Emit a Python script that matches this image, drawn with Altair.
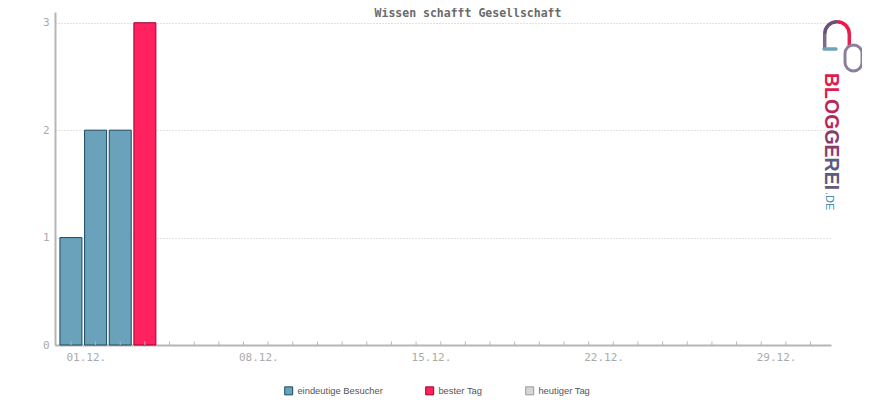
import altair as alt
import pandas as pd
import math

# ---- data ----
days = [1, 2, 3, 4]
visitors = [1, 2, 2, 3]
series = ["eindeutige Besucher", "eindeutige Besucher", "eindeutige Besucher", "bester Tag"]
legend_names = ["eindeutige Besucher", "bester Tag", "heutiger Tag"]
fill_colors = ["#6aa1bb", "#ff2160", "#d6d6d6"]
stroke_colors = ["#1b4a61", "#a0002a", "#9a9a9a"]
all_days = list(range(1, 32))
tick_days = [1, 8, 15, 22, 29]
tick_labels = ["01.12.", "08.12.", "15.12.", "22.12.", "29.12."]
y_ticks = [0, 1, 2, 3]
title_text = "Wissen schafft Gesellschaft"
logo_parts = ["BL", "OG", "GE", "REI"]
logo_colors = ["#e31b4f", "#b8285c", "#8c3a6c", "#5e5a80"]

bars_df = pd.DataFrame({"day": days, "value": visitors, "series": series})
ticks_df = pd.DataFrame({"day": all_days})

label_expr = "".join(
    f"datum.value == {d} ? '{l}' : " for d, l in zip(tick_days, tick_labels)
) + "''"

GRAY = "#b6b6b6"
MONO = "DejaVu Sans Mono"

xscale = alt.Scale(domain=[0.354, 31.83], nice=False, zero=False, padding=0)
yscale = alt.Scale(domain=[0, 3.1], nice=False, padding=0)

legend_kw = dict(title=None, orient="none", legendX=229, legendY=374,
                 direction="horizontal", columns=3, columnPadding=40,
                 symbolType="square", symbolSize=64, symbolStrokeWidth=1,
                 labelFont="Liberation Sans", labelFontSize=9.4,
                 labelColor="#555555", labelOffset=4)

bars = alt.Chart(bars_df).mark_bar(width=22, strokeWidth=1).encode(
    x=alt.X("day:Q", scale=xscale, axis=alt.Axis(
        values=tick_days, labelExpr=label_expr, title=None, grid=False,
        ticks=False, domainColor=GRAY, domainWidth=2,
        labelFont=MONO, labelFontSize=11, labelColor="#aaaaaa",
        labelAlign="left", labelOffset=-5, labelPadding=6, labelOverlap=False,
        labelFlush=False)),
    y=alt.Y("value:Q", scale=yscale, axis=alt.Axis(
        values=y_ticks, format="d", title=None, ticks=False,
        domainColor=GRAY, domainWidth=2,
        grid=True, gridColor="#c4c4c4", gridDash=[1, 2], gridWidth=1,
        labelFont=MONO, labelFontSize=11, labelColor="#aaaaaa",
        labelPadding=6)),
    color=alt.Color("series:N", scale=alt.Scale(domain=legend_names, range=fill_colors),
                    legend=alt.Legend(**legend_kw)),
    stroke=alt.Stroke("series:N", scale=alt.Scale(domain=legend_names, range=stroke_colors),
                      legend=alt.Legend(**legend_kw)),
)

xticks = alt.Chart(ticks_df).mark_rule(color=GRAY, strokeWidth=1).encode(
    x=alt.X("day:Q", scale=xscale),
    y=alt.value(329.5),
    y2=alt.value(333),
)

title = alt.Chart(pd.DataFrame({"t": [title_text]})).mark_text(
    font=MONO, fontSize=11.5, fontWeight="bold", color="#6a6a6a", baseline="middle"
).encode(text="t:N", x=alt.value(413), y=alt.value(2.4))

# ---- logo (decoration) ----
layers = [bars, xticks, title]
starts = [61, 87, 117.4, 145.6]
for part, col, s in zip(logo_parts, logo_colors, starts):
    layers.append(alt.Chart(pd.DataFrame({"t": [part]})).mark_text(
        font="Liberation Sans", fontSize=19.5, fontWeight="bold", color=col,
        angle=90, baseline="middle", align="left"
    ).encode(text="t:N", x=alt.value(775.5), y=alt.value(s)))

layers.append(alt.Chart(pd.DataFrame({"t": [".DE"]})).mark_text(
    font="Liberation Sans", fontSize=11, color="#4a8cb5",
    angle=90, baseline="middle", align="left"
).encode(text="t:N", x=alt.value(774), y=alt.value(180)))

one = pd.DataFrame({"k": [1]})
# arch of the speech bubble
layers.append(alt.Chart(one).mark_arc(innerRadius=10.5, outerRadius=14, color="#6a4f7a").encode(
    x=alt.value(782), y=alt.value(22),
    theta=alt.value(1.5 * math.pi), theta2=alt.value(2 * math.pi)))
layers.append(alt.Chart(one).mark_arc(innerRadius=10.5, outerRadius=14, color="#f0184a").encode(
    x=alt.value(782), y=alt.value(22),
    theta=alt.value(2 * math.pi), theta2=alt.value(2.5 * math.pi)))
layers.append(alt.Chart(one).mark_rule(color="#7a6a8c", strokeWidth=3.5).encode(
    x=alt.value(769.7), y=alt.value(22), y2=alt.value(36)))
layers.append(alt.Chart(one).mark_rule(color="#6fa3bb", strokeWidth=3.5, strokeCap="round").encode(
    x=alt.value(769), x2=alt.value(781), y=alt.value(37)))
layers.append(alt.Chart(one).mark_rule(color="#e8204e", strokeWidth=3.5).encode(
    x=alt.value(794.3), y=alt.value(22), y2=alt.value(34)))
# pill shape
layers.append(alt.Chart(one).mark_rect(filled=False, stroke="#8a7f9e", strokeWidth=3,
                                       cornerRadius=10).encode(
    x=alt.value(790), x2=alt.value(807), y=alt.value(33), y2=alt.value(59)))

chart = alt.layer(*layers).properties(
    width=776, height=333,
    background="white",
    autosize=alt.AutoSizeParams(type="none"),
    padding={"left": 47, "top": 4, "right": 31, "bottom": 51},
).configure_view(stroke=None)

chart.save("out.html", embed_options={"renderer": "svg", "actions": False})
